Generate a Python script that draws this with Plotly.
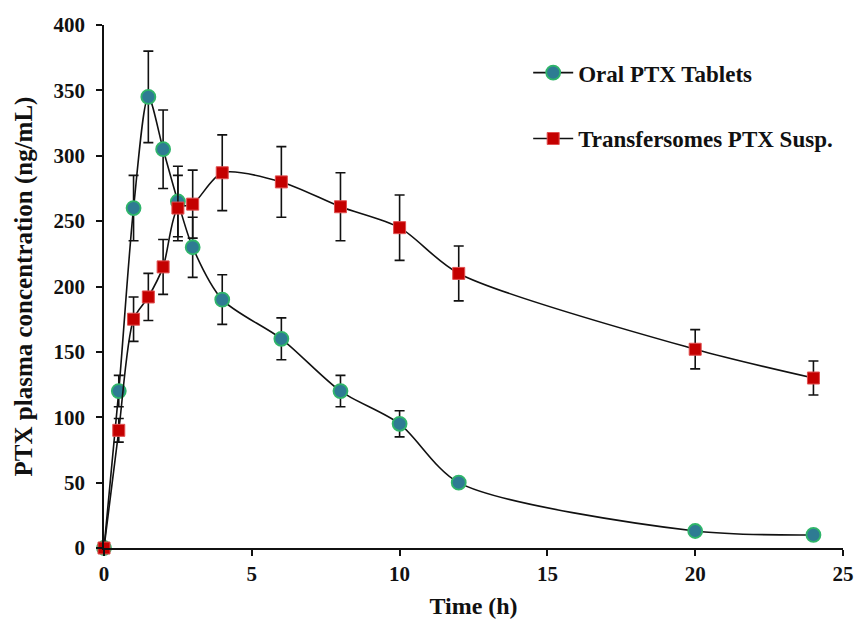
import plotly.graph_objects as go

time_h = [0, 0.5, 1, 1.5, 2, 2.5, 3, 4, 6, 8, 10, 12, 20, 24]
oral = [0, 120, 260, 345, 305, 265, 230, 190, 160, 120, 95, 50, 13, 10]
oral_err = [0, 12, 25, 35, 30, 27, 23, 19, 16, 12, 10, 0, 0, 0]
trans = [0, 90, 175, 192, 215, 260, 263, 287, 280, 261, 245, 210, 152, 130]
trans_err = [0, 9, 17, 18, 21, 25, 26, 29, 27, 26, 25, 21, 15, 13]

x_ticks = [0, 5, 10, 15, 20, 25]
y_ticks = [0, 50, 100, 150, 200, 250, 300, 350, 400]

serif = "Liberation Serif"

fig = go.Figure()
fig.add_trace(go.Scatter(
    x=time_h, y=oral, name="<b>Oral PTX Tablets</b>", mode="lines+markers",
    line=dict(color="#111111", width=1.6, shape="spline", smoothing=0.8),
    marker=dict(symbol="circle", size=14, color="#2E7B93",
                line=dict(color="#2FB56A", width=1.8)),
    error_y=dict(type="data", array=oral_err, visible=True, color="#111111",
                 thickness=1.6, width=5),
    legendgroup="a", cliponaxis=False,
))
fig.add_trace(go.Scatter(
    x=time_h, y=trans, name="<b>Transfersomes PTX Susp.</b>", mode="lines+markers",
    line=dict(color="#111111", width=1.6, shape="spline", smoothing=0.8),
    marker=dict(symbol="square", size=12, color="#C40000",
                line=dict(color="#E05050", width=1)),
    error_y=dict(type="data", array=trans_err, visible=True, color="#111111",
                 thickness=1.6, width=5),
    legendgroup="b", cliponaxis=False,
))

axis_font = dict(family=serif, size=21, color="#111111")
fig.update_layout(
    width=855, height=621,
    margin=dict(l=104, r=12, t=25, b=73),
    paper_bgcolor="white", plot_bgcolor="white",
    font=dict(family=serif, color="#111111"),
    showlegend=True,
    legend=dict(x=0.574, y=0.95, xanchor="left", yanchor="top",
                font=dict(family=serif, size=23, color="#111111"),
                tracegroupgap=33, bgcolor="rgba(0,0,0,0)", itemwidth=40),
    xaxis=dict(range=[0, 25], tickvals=x_ticks,
               ticktext=[f"<b>{v}</b>" for v in x_ticks],
               showline=True, linecolor="#111111", linewidth=1.6,
               ticks="outside", ticklen=6, tickwidth=1.6, tickcolor="#111111",
               showgrid=False, zeroline=False, tickfont=axis_font, automargin=False,
               title=dict(text="<b>Time (h)</b>", font=dict(family=serif, size=24), standoff=12)),
    yaxis=dict(range=[0, 400], tickvals=y_ticks,
               ticktext=[f"<b>{v}</b>" for v in y_ticks],
               showline=True, linecolor="#111111", linewidth=1.6,
               ticks="outside", ticklen=6, tickwidth=1.6, tickcolor="#111111",
               ticklabelstandoff=7, automargin=False,
               showgrid=False, zeroline=False, tickfont=axis_font,
               title=dict(text="<b>PTX plasma concentration (ng/mL)</b>", font=dict(family=serif, size=25), standoff=14)),
)

fig.write_html("out.html")
